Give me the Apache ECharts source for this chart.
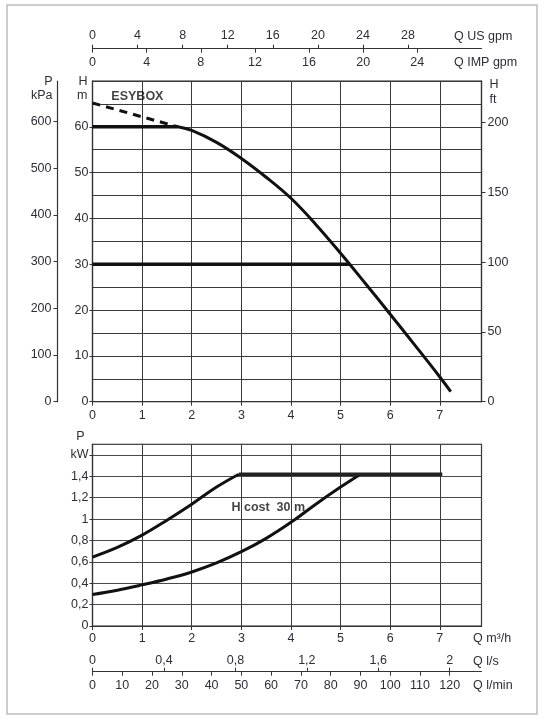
<!DOCTYPE html>
<html>
<head>
<meta charset="utf-8">
<script src="https://cdn.jsdelivr.net/npm/echarts@6/dist/echarts.min.js"></script>
<style>html,body{margin:0;padding:0;background:#fff}#c{width:546px;height:722px}</style>
</head>
<body>
<div id="c"></div>
<script>
// ---------- data ----------
// top chart: head curve (Q m3/h, H m)
const curveQ = [1.72, 2.0, 2.5, 3.0, 3.5, 4.0, 4.5, 5.0, 5.5, 6.0, 6.5, 7.0, 7.22];
const curveH = [60, 59.2, 56.6, 53.1, 49.0, 44.4, 38.7, 32.4, 25.8, 19.1, 12.3, 5.4, 2.2];
const dashQ = [0, 1.72];
const dashH = [65.2, 60];
const flatTopQ = [0, 1.72];
const flatTopH = [60, 60];
const set30Q = [0, 5.17];
const set30H = [30, 30];
// bottom chart: power curves (Q m3/h, P kW)
const upperQ = [0, 0.5, 1, 1.5, 2, 2.5, 2.95];
const upperP = [0.645, 0.735, 0.85, 0.99, 1.14, 1.30, 1.42];
const lowerQ = [0, 0.5, 1, 1.5, 2, 2.5, 3, 3.5, 4, 4.5, 5, 5.4];
const lowerP = [0.295, 0.335, 0.385, 0.44, 0.505, 0.59, 0.695, 0.82, 0.97, 1.14, 1.30, 1.42];
const flatPQ = [2.95, 7.05];
const flatPP = [1.42, 1.42];
// tick labels
const usGpmTicks = [0, 4, 8, 12, 16, 20, 24, 28];
const impGpmTicks = [0, 4, 8, 12, 16, 20, 24];
const lsTicks = [0, 0.4, 0.8, 1.2, 1.6, 2];
const lminTicks = [0, 10, 20, 30, 40, 50, 60, 70, 80, 90, 100, 110, 120];
// text labels
const topLabel = {q: 0.38, h: 66.6, text: 'ESYBOX'};
const botLabel = {q: 2.8, p: 1.107, text: 'H cost  30 m'};

// ---------- helpers ----------
const QMAX = 7.84;
const zip = (a, b) => a.map((v, i) => [v, b[i]]);
const FONT = "'Liberation Sans','Arimo',Arial,sans-serif";
const TXT = '#2e2e38';
const fmt = v => String(+(+v).toFixed(2)).replace('.', ',');
const lab = (extra) => Object.assign({color: TXT, fontFamily: FONT, fontSize: 12.5}, extra || {});
const gridLine = {show: true, lineStyle: {color: '#3a3a3a', width: 1}};
const axLine = {show: true, onZero: false, lineStyle: {color: '#333', width: 1.2}};
const noLine = {show: false, onZero: false};

const chart = echarts.init(document.getElementById('c'), null, {renderer: 'canvas'});
const option = {
  animation: false,
  backgroundColor: '#fff',
  graphic: [{type: 'rect', z: -10, shape: {x: 7, y: 5, width: 530, height: 709},
    style: {fill: 'none', stroke: '#bdbdbd', lineWidth: 1.5}}],
  grid: [
    {left: 92.5, top: 81, width: 389, height: 320.7, show: true, borderColor: '#222', borderWidth: 1.2, containLabel: false},
    {left: 92.5, top: 444.3, width: 389, height: 181.7, show: true, borderColor: '#222', borderWidth: 1.2, containLabel: false}
  ],
  xAxis: [
    {type: 'value', gridIndex: 0, position: 'bottom', min: 0, max: QMAX, interval: 1,
      axisLine: axLine, axisTick: {show: true, length: 4, lineStyle: {color: '#333'}},
      axisLabel: lab({margin: 7, showMaxLabel: false}), splitLine: gridLine},
    {type: 'value', gridIndex: 0, position: 'top', offset: 32.3, min: 0, max: QMAX * 4.40287,
      axisLine: axLine,
      axisTick: {show: true, length: 4, customValues: usGpmTicks, lineStyle: {color: '#333'}},
      axisLabel: lab({margin: 7, customValues: usGpmTicks}), splitLine: {show: false},
      name: 'Q US gpm', nameLocation: 'end', nameGap: -27.5, nameMoveOverlap: false,
      nameTextStyle: lab({align: 'left', verticalAlign: 'bottom', padding: [0, 0, 6, 0]})},
    {type: 'value', gridIndex: 0, position: 'top', offset: 32.3, min: 0, max: QMAX * 3.66615,
      axisLine: noLine,
      axisTick: {show: true, inside: true, length: 4, customValues: impGpmTicks, lineStyle: {color: '#333'}},
      axisLabel: lab({inside: true, margin: 7, customValues: impGpmTicks}), splitLine: {show: false},
      name: 'Q IMP gpm', nameLocation: 'end', nameGap: -27.5, nameMoveOverlap: false,
      nameTextStyle: lab({align: 'left', verticalAlign: 'top', padding: [7, 0, 0, 0]})},
    {type: 'value', gridIndex: 1, position: 'bottom', min: 0, max: QMAX, interval: 1,
      axisLine: axLine, axisTick: {show: true, length: 4, lineStyle: {color: '#333'}},
      axisLabel: lab({margin: 6, showMaxLabel: false}), splitLine: gridLine,
      name: 'Q m³/h', nameLocation: 'end', nameGap: -8.5, nameMoveOverlap: false,
      nameTextStyle: lab({align: 'left', verticalAlign: 'top', padding: [6, 0, 0, 0]})},
    {type: 'value', gridIndex: 1, position: 'bottom', offset: 45.7, min: 0, max: QMAX / 3.6,
      axisLine: axLine,
      axisTick: {show: true, inside: true, length: 4, customValues: lsTicks, lineStyle: {color: '#333'}},
      axisLabel: lab({inside: true, margin: 5, customValues: lsTicks, formatter: v => fmt(v)}),
      splitLine: {show: false},
      name: 'Q l/s', nameLocation: 'end', nameGap: -8.5, nameMoveOverlap: false,
      nameTextStyle: lab({align: 'left', verticalAlign: 'bottom', padding: [0, 0, 4, 0]})},
    {type: 'value', gridIndex: 1, position: 'bottom', offset: 45.7, min: 0, max: QMAX * 1000 / 60,
      axisLine: noLine,
      axisTick: {show: true, length: 4, customValues: lminTicks, lineStyle: {color: '#333'}},
      axisLabel: lab({margin: 7, customValues: lminTicks}), splitLine: {show: false},
      name: 'Q l/min', nameLocation: 'end', nameGap: -8.5, nameMoveOverlap: false,
      nameTextStyle: lab({align: 'left', verticalAlign: 'top', padding: [7, 0, 0, 0]})}
  ],
  yAxis: [
    {type: 'value', gridIndex: 0, position: 'left', min: 0, max: 70, interval: 10,
      axisLine: axLine, axisTick: {show: true, length: 3, lineStyle: {color: '#333'}},
      minorTick: {show: false, splitNumber: 2},
      minorSplitLine: {show: true, lineStyle: {color: '#3a3a3a', width: 1}},
      axisLabel: lab({margin: 4, showMaxLabel: false}), splitLine: gridLine,
      name: 'H\nm', nameLocation: 'end', nameGap: -22, nameMoveOverlap: false,
      nameTextStyle: lab({align: 'right', verticalAlign: 'bottom', lineHeight: 14, padding: [0, 5, 0, 0]})},
    {type: 'value', gridIndex: 0, position: 'left', offset: 35, min: 0, max: 70 * 9.80665, interval: 100,
      axisLine: axLine, axisTick: {show: true, length: 4, lineStyle: {color: '#333'}},
      axisLabel: lab({margin: 6, showMaxLabel: false}), splitLine: {show: false},
      name: 'P\nkPa', nameLocation: 'end', nameGap: -22, nameMoveOverlap: false,
      nameTextStyle: lab({align: 'right', verticalAlign: 'bottom', lineHeight: 14, padding: [0, 5, 0, 0]})},
    {type: 'value', gridIndex: 0, position: 'right', min: 0, max: 70 / 0.3048, interval: 50,
      axisLine: axLine, axisTick: {show: true, length: 4, lineStyle: {color: '#333'}},
      axisLabel: lab({margin: 6, showMaxLabel: false}), splitLine: {show: false},
      name: 'H\nft', nameLocation: 'end', nameGap: -26, nameMoveOverlap: false,
      nameTextStyle: lab({align: 'left', verticalAlign: 'bottom', lineHeight: 15, padding: [0, 0, 0, 8]})},
    {type: 'value', gridIndex: 1, position: 'left', min: 0, max: 1.7, interval: 0.2,
      axisLine: axLine, axisTick: {show: true, length: 3, lineStyle: {color: '#333'}},
      axisLabel: lab({margin: 4, showMaxLabel: false,
        formatter: v => Math.abs(v - 1.6) < 1e-6 ? 'kW' : fmt(v)}),
      splitLine: {show: true, lineStyle: {color: '#4a4a4a', width: 1.2}},
      name: 'P', nameLocation: 'end', nameGap: 1, nameMoveOverlap: false,
      nameTextStyle: lab({align: 'right', verticalAlign: 'bottom', padding: [0, 8, 0, 0]})}
  ],
  series: [
    {type: 'line', xAxisIndex: 0, yAxisIndex: 0, data: zip(curveQ, curveH), smooth: 0.4,
      symbol: 'none', lineStyle: {color: '#111', width: 3}, z: 5},
    {type: 'line', xAxisIndex: 0, yAxisIndex: 0, data: zip(dashQ, dashH),
      symbol: 'none', lineStyle: {color: '#111', width: 3, type: [8, 6]}, z: 5},
    {type: 'line', xAxisIndex: 0, yAxisIndex: 0, data: zip(flatTopQ, flatTopH),
      symbol: 'none', lineStyle: {color: '#111', width: 3.5}, z: 5},
    {type: 'line', xAxisIndex: 0, yAxisIndex: 0, data: zip(set30Q, set30H),
      symbol: 'none', lineStyle: {color: '#111', width: 3.5}, z: 5},
    {type: 'scatter', xAxisIndex: 0, yAxisIndex: 0, data: [[topLabel.q, topLabel.h]],
      symbolSize: 0, silent: true, z: 6,
      label: {show: true, position: 'right', distance: 0, formatter: topLabel.text,
        color: '#111', fontFamily: FONT, fontWeight: 'bold', fontSize: 12.5}},
    {type: 'line', xAxisIndex: 3, yAxisIndex: 3, data: zip(upperQ, upperP), smooth: 0.4,
      symbol: 'none', lineStyle: {color: '#111', width: 3}, z: 5},
    {type: 'line', xAxisIndex: 3, yAxisIndex: 3, data: zip(lowerQ, lowerP), smooth: 0.4,
      symbol: 'none', lineStyle: {color: '#111', width: 3}, z: 5},
    {type: 'line', xAxisIndex: 3, yAxisIndex: 3, data: zip(flatPQ, flatPP),
      symbol: 'none', lineStyle: {color: '#222', width: 3.5}, z: 5},
    {type: 'scatter', xAxisIndex: 3, yAxisIndex: 3, data: [[botLabel.q, botLabel.p]],
      symbolSize: 0, silent: true, z: 6,
      label: {show: true, position: 'right', distance: 0, formatter: botLabel.text,
        color: '#111', fontFamily: FONT, fontWeight: 'bold', fontSize: 12.5}}
  ]
};
chart.setOption(option);
</script>
</body>
</html>
